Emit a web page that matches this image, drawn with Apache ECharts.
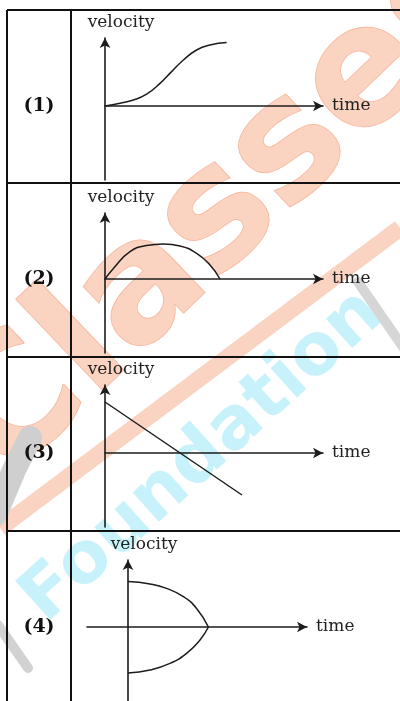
<!DOCTYPE html>
<html lang="en">
<head>
<meta charset="UTF-8">
<title>velocity - time</title>
<script src="https://cdn.jsdelivr.net/npm/echarts@6/dist/echarts.min.js"></script>
<style>
    html, body { margin: 0; padding: 0; background: #fff; }
    #main { width: 400px; height: 701px; }
</style>
</head>
<body>
<div id="main"></div>
<script>
// row labels and axis names
var panelLabels = ['(1)', '(2)', '(3)', '(4)'];
var xName = 'time';
var yName = 'velocity';

// axis ranges of the four small graphs (arbitrary units)
var xMin = [0, 0, 0, -2.05];
var xMax = [10.9, 10.9, 10.9, 8.95];
var yMin = [-3.7, -3.7, -3.7, -3.7];
var yMax = [3.4, 3.3, 3.4, 3.35];

// curves
var curve1 = [[0, 0], [0.75, 0.14], [1.42, 0.3], [2.08, 0.59], [2.75, 1.13], [3.33, 1.72], [3.92, 2.3], [4.58, 2.8], [5.25, 3.05], [6.08, 3.17]];
var curve2 = [[0, 0], [0.42, 0.53], [1.25, 1.37], [2.08, 1.67], [2.92, 1.75], [3.75, 1.65], [4.58, 1.28], [5.25, 0.7], [5.75, 0]];
var curve3 = [[0, 2.55], [6.85, -2.1]];
var curve4Upper = [[0, 2.27], [1.1, 2.15], [1.93, 1.93], [2.77, 1.52], [3.43, 0.93], [4.02, 0]];
var curve4Lower = [[0, -2.3], [1.1, -2.15], [2.1, -1.82], [2.93, -1.32], [3.6, -0.65], [4.02, 0]];

var curves = [[curve1], [curve2], [curve3], [curve4Upper, curve4Lower]];

var ink = '#1c1c1c';
var grids = [
    {left: 105, top: 38, width: 218, height: 142},
    {left: 105, top: 213, width: 218, height: 140},
    {left: 105, top: 385, width: 218, height: 142},
    {left: 87, top: 560, width: 220, height: 141}
];
var rowMid = [106, 279, 453, 627];

var xAxes = [], yAxes = [], series = [];
for (var i = 0; i < 4; i++) {
    grids[i].outerBoundsMode = 'none';
    grids[i].containLabel = false;
    xAxes.push({
        gridIndex: i, type: 'value', min: xMin[i], max: xMax[i],
        axisLine: {onZero: true, symbol: ['none', 'arrow'], symbolSize: [8, 10], lineStyle: {color: ink, width: 1.6}},
        axisTick: {show: false}, axisLabel: {show: false}, splitLine: {show: false},
        name: xName, nameLocation: 'end', nameGap: 9,
        nameTextStyle: {color: '#222', fontFamily: 'DejaVu Serif', fontSize: 17}
    });
    yAxes.push({
        gridIndex: i, type: 'value', min: yMin[i], max: yMax[i],
        axisLine: {onZero: true, symbol: ['none', 'arrow'], symbolSize: [8, 10], lineStyle: {color: ink, width: 1.6}},
        axisTick: {show: false}, axisLabel: {show: false}, splitLine: {show: false},
        name: yName, nameLocation: 'end', nameGap: 7,
        nameTextStyle: {color: '#222', fontFamily: 'DejaVu Serif', fontSize: 17, padding: [0, 0, 0, 32]}
    });
    curves[i].forEach(function (c) {
        series.push({
            type: 'line', xAxisIndex: i, yAxisIndex: i, data: c,
            smooth: c.length > 2 ? 0.5 : false,
            showSymbol: false, silent: true,
            lineStyle: {color: ink, width: 1.5}
        });
    });
}

// watermark + table ruling
var graphic = [
    {type: 'line', z: -10, shape: {x1: 0, y1: 528, x2: 400, y2: 228}, style: {stroke: '#fbd3c2', lineWidth: 17}},
    {type: 'text', z: -9, x: 227, y: 212, rotation: 43.7 * Math.PI / 180,
        style: {text: 'Classes', align: 'center', verticalAlign: 'middle', font: 'bold 165px "DejaVu Sans"',
            fill: '#fbd3c1', stroke: '#f7b298', lineWidth: 1.5}},
    {type: 'text', z: -8, x: 203, y: 457, rotation: 42 * Math.PI / 180,
        style: {text: 'Foundation', align: 'center', verticalAlign: 'middle', font: 'bold 72px "DejaVu Sans"',
            fill: '#c8f2fb'}},
    {type: 'polyline', z: -7, shape: {points: [[-5, 515], [14, 470], [30, 438]]}, style: {stroke: '#cfcfcf', lineWidth: 24, lineCap: 'round'}},
    {type: 'line', z: -7, shape: {x1: -2, y1: 625, x2: 28, y2: 668}, style: {stroke: '#d2d2d2', lineWidth: 10, lineCap: 'round'}},
    {type: 'line', z: -7, shape: {x1: 358, y1: 282, x2: 405, y2: 350}, style: {stroke: '#d6d6d6', lineWidth: 10, lineCap: 'round'}}
];
var rules = [[7, 10, 7, 701], [71, 10, 71, 701], [7, 10, 400, 10], [7, 183, 400, 183], [7, 357, 400, 357], [7, 531, 400, 531]];
rules.forEach(function (r) {
    graphic.push({type: 'line', z: 10, shape: {x1: r[0], y1: r[1], x2: r[2], y2: r[3]}, style: {stroke: '#111', lineWidth: 2}});
});
panelLabels.forEach(function (t, i) {
    graphic.push({type: 'text', z: 10, x: 39, y: rowMid[i],
        style: {text: t, align: 'center', verticalAlign: 'middle', font: 'bold 19px "DejaVu Serif"', fill: '#111'}});
});

var myChart = echarts.init(document.getElementById('main'));
myChart.setOption({
    animation: false,
    backgroundColor: '#fff',
    grid: grids,
    xAxis: xAxes,
    yAxis: yAxes,
    series: series,
    graphic: graphic
});
</script>
</body>
</html>
